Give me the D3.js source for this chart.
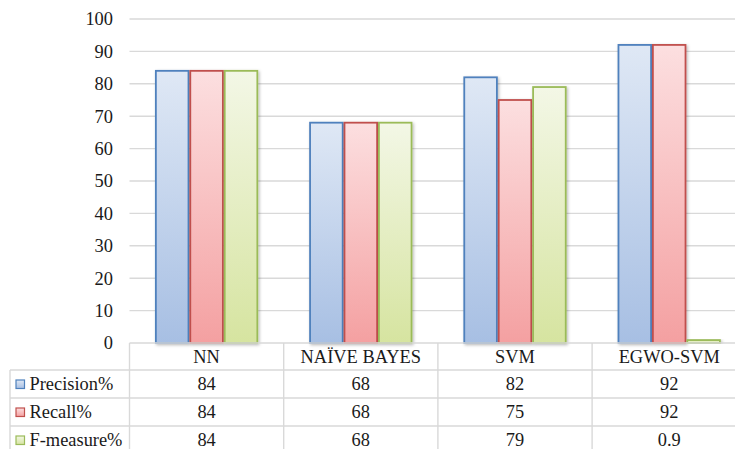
<!DOCTYPE html>
<html>
<head>
<meta charset="utf-8">
<script src="https://cdn.jsdelivr.net/npm/d3@7"></script>
<style>
  html, body { margin: 0; padding: 0; background: #fff; }
  svg { display: block; }
</style>
</head>
<body>
<svg id="chart" width="735" height="449"></svg>
<script>
// Classifier comparison: grouped bars with a data table underneath
const categories = ["NN", "NAÏVE BAYES", "SVM", "EGWO-SVM"];
const seriesNames = ["Precision%", "Recall%", "F-measure%"];
const precision = [84, 68, 82, 92];
const recall = [84, 68, 75, 92];
const fMeasure = [84, 68, 79, 0.9];
const yTicks = [0, 10, 20, 30, 40, 50, 60, 70, 80, 90, 100];

const seriesValues = [precision, recall, fMeasure];
const seriesStyle = [
  { stroke: "#4f81bd", top: "#dfe8f5", bottom: "#a7bfe3" },
  { stroke: "#c0504d", top: "#fcdfe0", bottom: "#f4a0a1" },
  { stroke: "#9bbb59", top: "#f3f7e6", bottom: "#d6e4a0" }
];

const FONT = "Liberation Serif";
const FONT_SIZE = 18.4;
const TEXT_COLOR = "#1a1a1a";

const W = 735, H = 449;
const plotLeft = 129.5, colW = 154.2;
const plotTop = 19, plotBottom = 343;
const rowH = [27, 28, 28, 28];

const svg = d3.select("#chart");
const defs = svg.append("defs");

// Apply the table/axis typeface as plain presentation attributes
const label = sel => sel
  .attr("font-family", FONT)
  .attr("font-size", FONT_SIZE)
  .attr("fill", TEXT_COLOR);

seriesStyle.forEach((s, i) => {
  const g = defs.append("linearGradient")
    .attr("id", "grad" + i)
    .attr("x1", 0).attr("y1", 0).attr("x2", 0).attr("y2", 1);
  g.append("stop").attr("offset", "0%").attr("stop-color", s.top);
  g.append("stop").attr("offset", "100%").attr("stop-color", s.bottom);
});

const shadow = defs.append("filter").attr("id", "shadow")
  .attr("x", "-20%").attr("y", "-5%").attr("width", "150%").attr("height", "115%");
shadow.append("feDropShadow")
  .attr("dx", 1.2).attr("dy", 1.2).attr("stdDeviation", 1.6)
  .attr("flood-color", "#000").attr("flood-opacity", 0.28);

const x = d3.scaleBand()
  .domain(categories)
  .range([plotLeft, plotLeft + colW * categories.length])
  .paddingInner(0).paddingOuter(0);

const xs = d3.scaleBand()
  .domain(seriesNames)
  .range([0, x.bandwidth()])
  .paddingInner(0).paddingOuter(0.74);

const y = d3.scaleLinear().domain([0, 100]).range([plotBottom, plotTop]);

// Horizontal gridlines
svg.append("g").selectAll("line")
  .data(yTicks.filter(t => t > 0))
  .join("line")
  .attr("x1", plotLeft).attr("x2", W)
  .attr("y1", d => y(d)).attr("y2", d => y(d))
  .attr("stroke", "#d9d9d9").attr("stroke-width", 1.4);

// Y axis labels
const yAxis = d3.axisLeft(y).tickValues(yTicks).tickSize(0).tickPadding(16.5);
const yg = svg.append("g").attr("transform", `translate(${plotLeft},0)`).call(yAxis);
yg.select(".domain").remove();
yg.attr("font-family", FONT).attr("font-size", FONT_SIZE);
yg.selectAll("text").call(label);

// Bars
const barData = [];
categories.forEach((c, ci) => {
  seriesNames.forEach((s, si) => {
    barData.push({ cat: c, series: s, si, value: seriesValues[si][ci] });
  });
});

svg.append("g").selectAll("rect")
  .data(barData)
  .join("rect")
  .attr("x", d => x(d.cat) + xs(d.series) + 0.9)
  .attr("y", d => y(d.value))
  .attr("width", xs.bandwidth() - 1.8)
  .attr("height", d => y(0) - y(d.value))
  .attr("fill", d => `url(#grad${d.si})`)
  .attr("stroke", d => seriesStyle[d.si].stroke)
  .attr("stroke-width", 1.8)
  .attr("filter", "url(#shadow)");

// Data table
const gridColor = "#d9d9d9";
const table = svg.append("g");
const rowTops = [plotBottom];
rowH.forEach((h, i) => rowTops.push(rowTops[i] + h));
const legendLeft = 10;
const tableRight = plotLeft + colW * categories.length;

// Horizontal table lines
table.append("line")
  .attr("x1", plotLeft).attr("x2", tableRight)
  .attr("y1", rowTops[0]).attr("y2", rowTops[0])
  .attr("stroke", gridColor).attr("stroke-width", 1.4);
[1, 2, 3].forEach(r => {
  table.append("line")
    .attr("x1", legendLeft).attr("x2", tableRight)
    .attr("y1", rowTops[r]).attr("y2", rowTops[r])
    .attr("stroke", gridColor).attr("stroke-width", 1.4);
});

// Vertical table lines
table.append("line")
  .attr("x1", legendLeft).attr("x2", legendLeft)
  .attr("y1", rowTops[1]).attr("y2", H)
  .attr("stroke", gridColor).attr("stroke-width", 1.4);
d3.range(categories.length + 1).forEach(i => {
  const xx = plotLeft + colW * i;
  table.append("line")
    .attr("x1", xx).attr("x2", xx)
    .attr("y1", rowTops[0]).attr("y2", H)
    .attr("stroke", gridColor).attr("stroke-width", 1.4);
});

// Category header
table.selectAll("text.cat")
  .data(categories)
  .join("text")
  .attr("class", "cat")
  .attr("x", d => x(d) + x.bandwidth() / 2)
  .attr("y", rowTops[0] + 20)
  .attr("text-anchor", "middle")
  .call(label)
  .text(d => d);

// Series rows: legend key, name and one value per category
seriesNames.forEach((s, si) => {
  const top = rowTops[si + 1];
  const mid = top + rowH[si + 1] / 2;
  table.append("rect")
    .attr("x", 16).attr("y", mid - 4)
    .attr("width", 8.5).attr("height", 8.5)
    .attr("fill", `url(#grad${si})`)
    .attr("stroke", seriesStyle[si].stroke)
    .attr("stroke-width", 1.2);
  table.append("text")
    .attr("x", 29.5).attr("y", mid + 6)
    .call(label)
    .text(s);
  table.selectAll(null)
    .data(seriesValues[si])
    .join("text")
    .attr("x", (d, ci) => x(categories[ci]) + x.bandwidth() / 2)
    .attr("y", mid + 6)
    .attr("text-anchor", "middle")
    .call(label)
    .text(d => String(d));
});
</script>
</body>
</html>
